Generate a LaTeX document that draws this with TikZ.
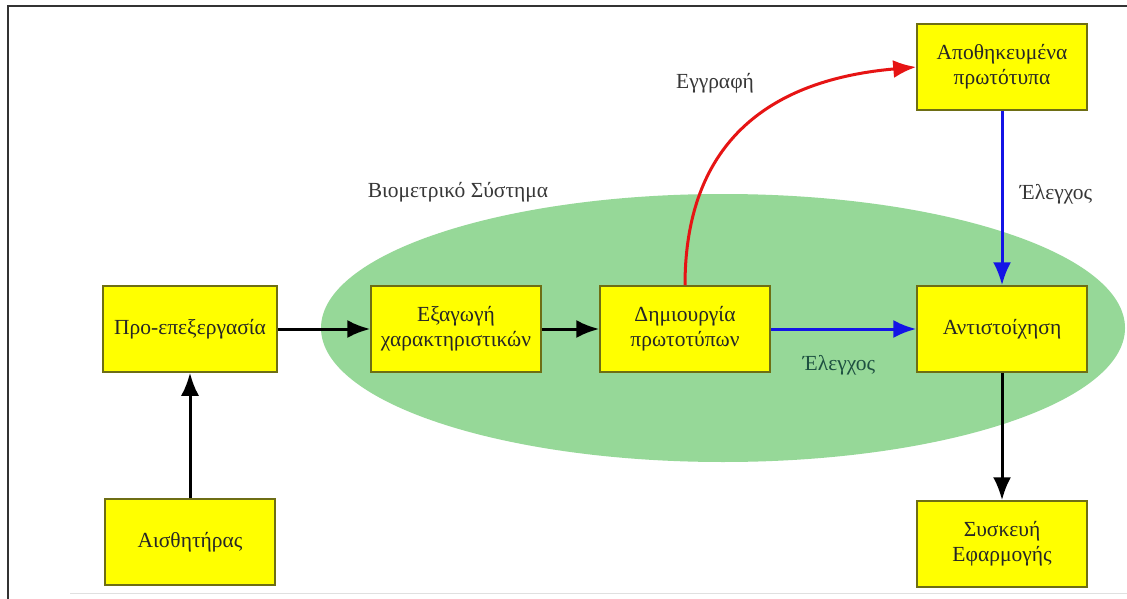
\documentclass[tikz,border=0pt]{standalone}
\usepackage{fontspec}
\setmainfont{Liberation Serif}
\usetikzlibrary{arrows.meta,shapes.geometric}
\definecolor{boxyellow}{RGB}{255,255,0}
\definecolor{boxedge}{RGB}{110,110,20}
\definecolor{ellgreen}{RGB}{150,216,152}
\definecolor{labelgray}{RGB}{55,55,55}
\definecolor{labelteal}{RGB}{30,80,65}
\definecolor{arrblue}{RGB}{20,20,230}
\definecolor{arrred}{RGB}{230,20,20}
\tikzset{
  x=1pt, y=-1pt,
  stagebox/.style={draw=boxedge, line width=1.5pt, fill=boxyellow, minimum width=170pt, minimum height=86pt, align=center, inner sep=2pt, font=\fontsize{21.5}{25}\selectfont, text=black!85},
  lbl/.style={font=\fontsize{21.5}{25}\selectfont, text=labelgray},
  blackarrow/.style={line width=3pt, draw=black, -{Latex[length=23pt,width=18pt]}},
  bluearrow/.style={line width=3pt, draw=arrblue, -{Latex[length=23pt,width=18pt]}},
  redarrow/.style={line width=3pt, draw=arrred, -{Latex[length=23pt,width=18pt]}}
}
\begin{document}
\begin{tikzpicture}
\useasboundingbox (0,0) rectangle (1127,599);
\fill[white] (0,0) rectangle (1127,599);
% frame
\draw[line width=2pt, draw=black!80] (1127,6) -- (8,6) -- (8,599);
\draw[line width=1pt, draw=black!12] (70,593) -- (1127,593);
% ellipse
\node[ellipse, fill=ellgreen, minimum width=804pt, minimum height=268pt, inner sep=0pt] (sys) at (723,328) {};
% boxes
\node[stagebox, minimum width=174pt] (pre) at (190,329) {Προ-επεξεργασία};
\node[stagebox] (sens) at (190,542) {Αισθητήρας};
\node[stagebox] (ext) at (456,329) {Εξαγωγή\\χαρακτηριστικών};
\node[stagebox] (dem) at (685,329) {Δημιουργία\\πρωτοτύπων};
\node[stagebox] (match) at (1002,329) {Αντιστοίχηση};
\node[stagebox] (stored) at (1002,67) {Αποθηκευμένα\\πρωτότυπα};
\node[stagebox] (dev) at (1002,544) {Συσκευή\\Εφαρμογής};
% labels
\node[lbl] (syslbl) at (458,192) {Βιομετρικό Σύστημα};
\node[lbl] (reglbl) at (715,83) {Εγγραφή};
\node[lbl] (chk1) at (1056,194) {Έλεγχος};
\node[lbl, text=labelteal] (chk2) at (839,365) {Έλεγχος};
% connectors
\draw[blackarrow] (sens) -- (pre);
\draw[blackarrow] (pre) -- (ext);
\draw[blackarrow] (ext) -- (dem);
\draw[bluearrow] (dem) -- (match);
\draw[bluearrow] (stored) -- (match);
\draw[blackarrow] (match) -- (dev);
\draw[redarrow] (dem.north) .. controls (685,165) and (745,82) .. (stored.west);
\end{tikzpicture}
\end{document}
